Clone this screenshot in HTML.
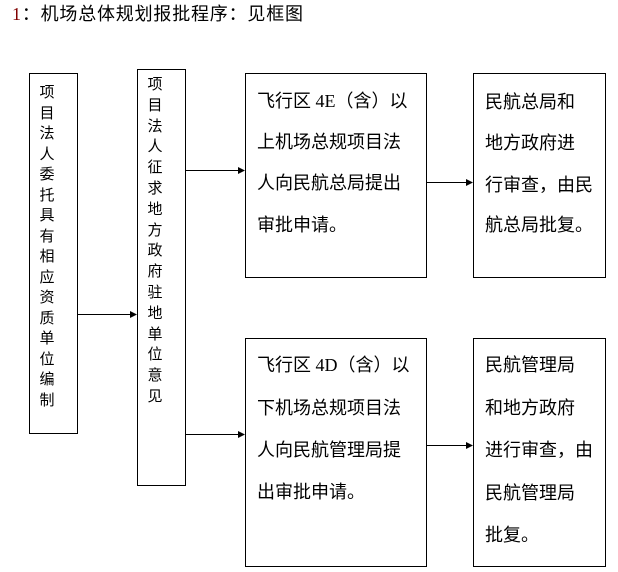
<!DOCTYPE html>
<html><head><meta charset="utf-8"><style>
html,body{margin:0;padding:0;background:#fff;}
body{width:618px;height:572px;position:relative;overflow:hidden;font-family:"Liberation Serif","Noto Sans CJK SC",serif;color:#000;}
.b{position:absolute;border:1px solid #000;box-sizing:border-box;}
.t{position:absolute;white-space:nowrap;font-size:18px;line-height:18px;}
.v{position:absolute;font-size:15px;text-align:center;width:20px;}
.v span{display:block;}
</style></head><body>
<div class="t" style="left:12px;top:5px;font-size:18px;letter-spacing:0.8px;"><span style="color:#800000">1</span>：机场总体规划报批程序：见框图</div>

<div class="b" style="left:29px;top:73px;width:49px;height:361px;"></div>
<div class="v" style="left:37px;top:83px;line-height:20.5px;"><span>项</span><span>目</span><span>法</span><span>人</span><span>委</span><span>托</span><span>具</span><span>有</span><span>相</span><span>应</span><span>资</span><span>质</span><span>单</span><span>位</span><span>编</span><span>制</span></div>

<div class="b" style="left:137px;top:69px;width:49px;height:417px;"></div>
<div class="v" style="left:145px;top:75px;line-height:20.8px;"><span>项</span><span>目</span><span>法</span><span>人</span><span>征</span><span>求</span><span>地</span><span>方</span><span>政</span><span>府</span><span>驻</span><span>地</span><span>单</span><span>位</span><span>意</span><span>见</span></div>

<div class="b" style="left:245px;top:73px;width:182px;height:205px;"></div>
<div class="t" style="left:257px;top:92px;">飞行区 4E（含）以</div>
<div class="t" style="left:257px;top:133px;">上机场总规项目法</div>
<div class="t" style="left:257px;top:174px;">人向民航总局提出</div>
<div class="t" style="left:257px;top:216px;">审批申请。</div>

<div class="b" style="left:245px;top:338px;width:182px;height:229px;"></div>
<div class="t" style="left:257px;top:356px;">飞行区 4D（含）以</div>
<div class="t" style="left:257px;top:399px;">下机场总规项目法</div>
<div class="t" style="left:257px;top:441px;">人向民航管理局提</div>
<div class="t" style="left:257px;top:483px;">出审批申请。</div>

<div class="b" style="left:473px;top:73px;width:133px;height:205px;"></div>
<div class="t" style="left:485px;top:93px;">民航总局和</div>
<div class="t" style="left:485px;top:134px;">地方政府进</div>
<div class="t" style="left:485px;top:176px;">行审查，由民</div>
<div class="t" style="left:485px;top:216px;">航总局批复。</div>

<div class="b" style="left:473px;top:338px;width:133px;height:229px;"></div>
<div class="t" style="left:485px;top:356px;">民航管理局</div>
<div class="t" style="left:485px;top:399px;">和地方政府</div>
<div class="t" style="left:485px;top:441px;">进行审查，由</div>
<div class="t" style="left:485px;top:484px;">民航管理局</div>
<div class="t" style="left:485px;top:526px;">批复。</div>

<svg width="618" height="572" style="position:absolute;left:0;top:0;">
<g stroke="#000" stroke-width="1">
<line x1="78" y1="314.5" x2="131" y2="314.5"/>
<line x1="186" y1="170.5" x2="239" y2="170.5"/>
<line x1="186" y1="434.5" x2="239" y2="434.5"/>
<line x1="427" y1="182.5" x2="467" y2="182.5"/>
<line x1="427" y1="445.5" x2="467" y2="445.5"/>
</g>
<g fill="#000">
<polygon points="137,314.5 130,311 130,318"/>
<polygon points="245,170.5 238,167 238,174"/>
<polygon points="245,434.5 238,431 238,438"/>
<polygon points="473,182.5 466,179 466,186"/>
<polygon points="473,445.5 466,442 466,449"/>
</g>
</svg>
</body></html>
